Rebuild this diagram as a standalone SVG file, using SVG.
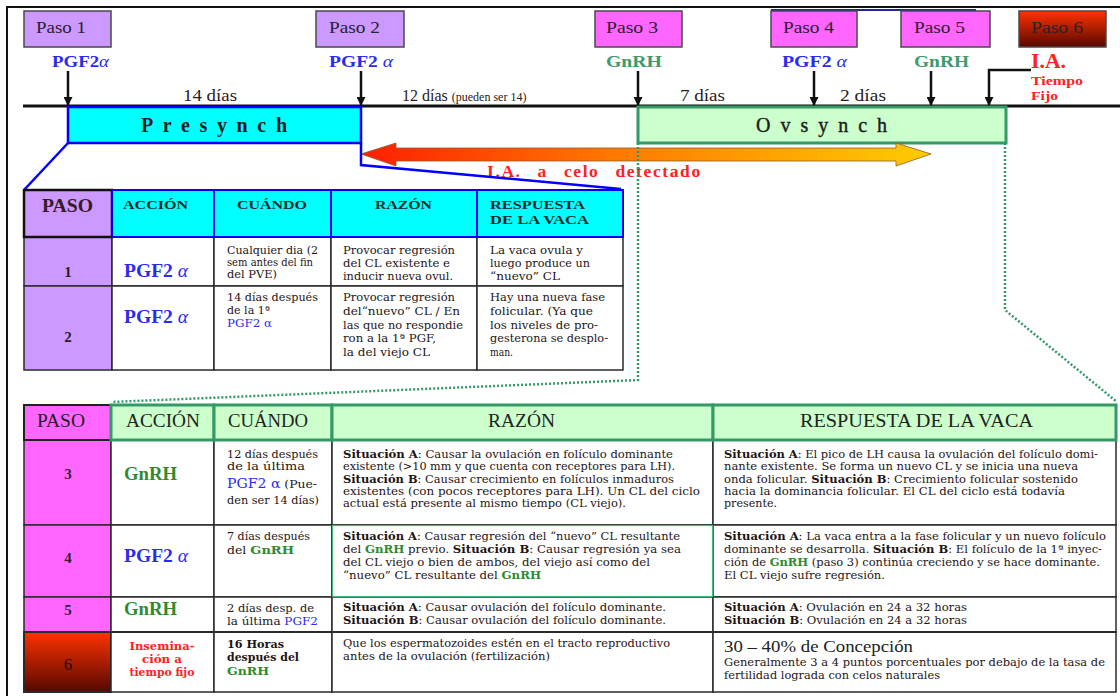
<svg xmlns="http://www.w3.org/2000/svg" width="1120" height="696" viewBox="0 0 1120 696">
<defs>
  <linearGradient id="g6" x1="0" y1="0" x2="0" y2="1">
    <stop offset="0" stop-color="#FF3300"/>
    <stop offset="1" stop-color="#560800"/>
  </linearGradient>
  <linearGradient id="gArrow" x1="0" y1="0" x2="1" y2="0">
    <stop offset="0" stop-color="#FF1E00"/>
    <stop offset="0.45" stop-color="#FF7A00"/>
    <stop offset="1" stop-color="#FFCC00"/>
  </linearGradient>
  <marker id="ah" markerWidth="9" markerHeight="9" refX="8" refY="4.5" orient="auto" markerUnits="userSpaceOnUse">
    <path d="M0,0 L9,4.5 L0,9 z" fill="#111"/>
  </marker>
</defs>
<style>
  .sf { font-family: "Liberation Serif", "DejaVu Serif", serif; }
  .t { font-family: "DejaVu Serif", "Liberation Serif", serif; font-size: 11px; fill: #1e1414; }
  .bd { font-weight: bold; }
  .blue { fill: #2B2BF0; }
  .grn { fill: #2E8B2E; }
  .teal { fill: #3E9A70; }
  .red { fill: #FF2020; }
  .pbox { stroke: #4a4a4a; stroke-width: 1.5; }
  .lav { fill: #CC99FF; }
  .mag { fill: #FF66FF; }
  .cyan { fill: #00FFFF; }
  .lg { fill: #CCFFCC; }
  .wh { fill: #FFFFFF; }
  .grid { stroke: #2a2a2a; stroke-width: 1.5; }
  .h1 { stroke: #0000FF; stroke-width: 2; }
  .h2 { stroke: #339966; stroke-width: 3; }
  .lblp { font-size: 17px; fill: #2a2030; }
  .hdr1 { font-size: 13px; font-weight: bold; fill: #1a2a2a; }
  .hdr2 { font-size: 19px; fill: #222; }
  .dots { fill: none; stroke: #339966; stroke-width: 2.5; stroke-dasharray: 2 2; }
</style>
<rect x="0" y="0" width="1120" height="696" fill="#FFFFFF"/>

<!-- outer frame -->
<path d="M7,696 V7 H1120" fill="none" stroke="#111" stroke-width="2"/>
<line x1="771" y1="10" x2="976" y2="10" stroke="#2222AA" stroke-width="2"/>

<!-- step boxes -->
<g id="paso1">
  <rect class="pbox lav" x="24" y="11" width="87" height="36"/>
  <text class="sf lblp" x="36" y="33" textLength="50" lengthAdjust="spacingAndGlyphs">Paso 1</text>
  <text class="sf bd blue" x="52" y="67" font-size="17" textLength="57" lengthAdjust="spacingAndGlyphs">PGF2<tspan font-style="italic" font-weight="normal">α</tspan></text>
</g>
<g id="paso2">
  <rect class="pbox lav" x="316" y="11" width="88" height="36"/>
  <text class="sf lblp" x="329" y="33" textLength="51" lengthAdjust="spacingAndGlyphs">Paso 2</text>
  <text class="sf bd blue" x="329" y="67" font-size="17" textLength="64" lengthAdjust="spacingAndGlyphs">PGF2 <tspan font-style="italic" font-weight="normal">α</tspan></text>
</g>
<g id="paso3">
  <rect class="pbox mag" x="595" y="11" width="87" height="36"/>
  <text class="sf lblp" x="606" y="33" textLength="52" lengthAdjust="spacingAndGlyphs">Paso 3</text>
  <text class="sf bd teal" x="606" y="67" font-size="17" textLength="56" lengthAdjust="spacingAndGlyphs">GnRH</text>
</g>
<g id="paso4">
  <rect class="pbox mag" x="771" y="11" width="86" height="36"/>
  <text class="sf lblp" x="783" y="33" textLength="51" lengthAdjust="spacingAndGlyphs">Paso 4</text>
  <text class="sf bd blue" x="782" y="67" font-size="17" textLength="65" lengthAdjust="spacingAndGlyphs">PGF2 <tspan font-style="italic" font-weight="normal">α</tspan></text>
</g>
<g id="paso5">
  <rect class="pbox mag" x="901" y="11" width="89" height="36"/>
  <text class="sf lblp" x="914" y="33" textLength="51" lengthAdjust="spacingAndGlyphs">Paso 5</text>
  <text class="sf bd teal" x="914" y="67" font-size="17" textLength="55" lengthAdjust="spacingAndGlyphs">GnRH</text>
</g>
<g id="paso6">
  <rect class="pbox" x="1019" y="11" width="87" height="36" fill="url(#g6)"/>
  <text class="sf lblp" x="1031" y="33" textLength="52" lengthAdjust="spacingAndGlyphs" fill="#1a0a0a">Paso 6</text>
  <text class="sf bd red" x="1031" y="68" font-size="20" textLength="35" lengthAdjust="spacingAndGlyphs">I.A.</text>
  <text class="sf bd red" x="1031" y="85" font-size="13" textLength="52" lengthAdjust="spacingAndGlyphs">Tiempo</text>
  <text class="sf bd red" x="1031" y="100" font-size="13" textLength="27" lengthAdjust="spacingAndGlyphs">Fijo</text>
</g>

<!-- timeline -->
<g id="timeline">
  <line x1="23" y1="106" x2="1120" y2="106" stroke="#111" stroke-width="3"/>
  <text class="sf" x="183" y="101" font-size="16" fill="#2a2020" textLength="54" lengthAdjust="spacingAndGlyphs">14 días</text>
  <text class="sf" x="402" y="101" font-size="16" fill="#2a2020">12 días <tspan font-size="12">(pueden ser 14)</tspan></text>
  <text class="sf" x="680" y="101" font-size="16" fill="#2a2020" textLength="45" lengthAdjust="spacingAndGlyphs">7 días</text>
  <text class="sf" x="840" y="101" font-size="16" fill="#2a2020" textLength="46" lengthAdjust="spacingAndGlyphs">2 días</text>
</g>

<g id="presynch">
  <rect x="68" y="107" width="293" height="36" class="cyan" stroke="#0000FF" stroke-width="2.5"/>
  <text class="sf bd" x="141" y="132" font-size="20" fill="#1a2020" textLength="146" lengthAdjust="spacing">Presynch</text>
</g>
<g id="ovsynch">
  <rect x="638" y="107" width="368" height="36" class="lg" stroke="#339966" stroke-width="3"/>
  <text class="sf" x="756" y="132" font-size="20" fill="#1a2020" stroke="#1a2020" stroke-width="0.4" textLength="131" lengthAdjust="spacing">Ovsynch</text>
</g>

<!-- detected heat arrow -->
<g id="ia-celo">
  <polygon points="361,154 396,143 396,148 896,148 896,143 931,154 896,166 896,161 396,161 396,166" fill="url(#gArrow)" stroke="#8a5a30" stroke-width="0.8"/>
  <text class="sf bd red" x="487" y="177" font-size="17.5" letter-spacing="1.6" word-spacing="10">I.A. a celo detectado</text>
</g>

<!-- connectors -->
<g id="connectors" fill="none">
  <line x1="68" y1="71" x2="68" y2="105" stroke="#111" stroke-width="2.5" marker-end="url(#ah)"/>
  <line x1="361" y1="71" x2="361" y2="105" stroke="#111" stroke-width="2.5" marker-end="url(#ah)"/>
  <line x1="638" y1="71" x2="638" y2="105" stroke="#111" stroke-width="2.5" marker-end="url(#ah)"/>
  <line x1="814" y1="71" x2="814" y2="105" stroke="#111" stroke-width="2.5" marker-end="url(#ah)"/>
  <line x1="931" y1="71" x2="931" y2="105" stroke="#111" stroke-width="2.5" marker-end="url(#ah)"/>
  <path d="M1031,70 H989 V105" stroke="#111" stroke-width="2.5" marker-end="url(#ah)"/>
  <path d="M68,143 L24,190" stroke="#0000FF" stroke-width="2.5"/>
  <path d="M361,143 V165 L621,189" stroke="#0000FF" stroke-width="2.5"/>
  <path class="dots" d="M638,143 V380 L112,402"/>
  <path class="dots" d="M1005,143 V310 L1117,402"/>
</g>

<!-- table 1 : Presynch -->
<g id="table1">
  <rect class="lav grid" x="24" y="237" width="88" height="49"/>
  <rect class="wh grid" x="112" y="237" width="102" height="49"/>
  <rect class="wh grid" x="214" y="237" width="117" height="49"/>
  <rect class="wh grid" x="331" y="237" width="146" height="49"/>
  <rect class="wh grid" x="477" y="237" width="146" height="49"/>
  <rect class="lav grid" x="24" y="286" width="88" height="84"/>
  <rect class="wh grid" x="112" y="286" width="102" height="84"/>
  <rect class="wh grid" x="214" y="286" width="117" height="84"/>
  <rect class="wh grid" x="331" y="286" width="146" height="84"/>
  <rect class="wh grid" x="477" y="286" width="146" height="84"/>
  <rect class="lav" x="24" y="190" width="88" height="47" stroke="#111" stroke-width="2.5"/>
  <rect class="cyan h1" x="112" y="190" width="102" height="47"/>
  <rect class="cyan h1" x="214" y="190" width="117" height="47"/>
  <rect class="cyan h1" x="331" y="190" width="146" height="47"/>
  <rect class="cyan h1" x="477" y="190" width="146" height="47"/>

  <text class="sf bd" x="42" y="212" font-size="18" fill="#3a1a2a" textLength="51" lengthAdjust="spacingAndGlyphs">PASO</text>
  <text class="sf hdr1" x="123" y="209" textLength="65" lengthAdjust="spacingAndGlyphs">ACCIÓN</text>
  <text class="sf hdr1" x="237" y="209" textLength="70" lengthAdjust="spacingAndGlyphs">CUÁNDO</text>
  <text class="sf hdr1" x="375" y="209" textLength="57" lengthAdjust="spacingAndGlyphs">RAZÓN</text>
  <text class="sf hdr1" x="490" y="209" textLength="95" lengthAdjust="spacingAndGlyphs">RESPUESTA</text>
  <text class="sf hdr1" x="490" y="224" textLength="99" lengthAdjust="spacingAndGlyphs">DE LA VACA</text>

  <text class="sf bd" x="68" y="277" font-size="15" fill="#2a1a2a" text-anchor="middle">1</text>
  <text class="sf bd blue" x="124" y="277" font-size="18" textLength="64" lengthAdjust="spacingAndGlyphs">PGF2 <tspan font-style="italic" font-weight="normal">α</tspan></text>
  <text class="t" x="227" y="254" textLength="91" lengthAdjust="spacingAndGlyphs">Cualquier dia (2</text>
  <text class="t" x="227" y="266" font-size="9" textLength="86" lengthAdjust="spacingAndGlyphs">sem antes del fin</text>
  <text class="t" x="227" y="278" font-size="9" textLength="50" lengthAdjust="spacingAndGlyphs">del  PVE)</text>
  <text class="t" x="343" y="254" textLength="112" lengthAdjust="spacingAndGlyphs">Provocar regresión</text>
  <text class="t" x="343" y="267" textLength="107" lengthAdjust="spacingAndGlyphs">del CL existente e</text>
  <text class="t" x="343" y="280" textLength="110" lengthAdjust="spacingAndGlyphs">inducir nueva ovul.</text>
  <text class="t" x="490" y="254" textLength="93" lengthAdjust="spacingAndGlyphs">La vaca ovula y</text>
  <text class="t" x="490" y="267" textLength="100" lengthAdjust="spacingAndGlyphs">luego produce un</text>
  <text class="t" x="490" y="280" textLength="70" lengthAdjust="spacingAndGlyphs">“nuevo” CL</text>

  <text class="sf bd" x="68" y="342" font-size="15" fill="#2a1a2a" text-anchor="middle">2</text>
  <text class="sf bd blue" x="124" y="323" font-size="18" textLength="64" lengthAdjust="spacingAndGlyphs">PGF2 <tspan font-style="italic" font-weight="normal">α</tspan></text>
  <text class="t" x="227" y="301" textLength="91" lengthAdjust="spacingAndGlyphs">14 días después</text>
  <text class="t" x="227" y="314" textLength="43" lengthAdjust="spacingAndGlyphs">de la 1ª</text>
  <text class="t blue" x="227" y="327" textLength="45" lengthAdjust="spacingAndGlyphs">PGF2 α</text>
  <text class="t" x="343" y="301" textLength="112" lengthAdjust="spacingAndGlyphs">Provocar regresión</text>
  <text class="t" x="343" y="315" textLength="117" lengthAdjust="spacingAndGlyphs">del“nuevo” CL / En</text>
  <text class="t" x="343" y="329" textLength="120" lengthAdjust="spacingAndGlyphs">las que no respondie</text>
  <text class="t" x="343" y="342" textLength="93" lengthAdjust="spacingAndGlyphs">ron a la 1ª PGF,</text>
  <text class="t" x="343" y="356" textLength="87" lengthAdjust="spacingAndGlyphs">la del viejo CL</text>
  <text class="t" x="490" y="301" textLength="115" lengthAdjust="spacingAndGlyphs">Hay una nueva fase</text>
  <text class="t" x="490" y="315" textLength="103" lengthAdjust="spacingAndGlyphs">folicular. (Ya que</text>
  <text class="t" x="490" y="329" textLength="108" lengthAdjust="spacingAndGlyphs">los niveles de pro-</text>
  <text class="t" x="490" y="342" textLength="118" lengthAdjust="spacingAndGlyphs">gesterona se desplo-</text>
  <text class="t" x="490" y="356" textLength="23" lengthAdjust="spacingAndGlyphs">man.</text>
</g>

<!-- table 2 : Ovsynch -->
<g id="table2">
  <rect class="mag grid" x="24" y="440" width="87" height="85"/>
  <rect class="wh grid" x="111" y="440" width="103" height="85"/>
  <rect class="wh grid" x="214" y="440" width="118" height="85"/>
  <rect class="wh grid" x="332" y="440" width="381" height="85"/>
  <rect class="wh grid" x="713" y="440" width="403" height="85"/>
  <rect class="mag grid" x="24" y="525" width="87" height="72"/>
  <rect class="wh grid" x="111" y="525" width="103" height="72"/>
  <rect class="wh grid" x="214" y="525" width="118" height="72"/>
  <rect class="wh grid" x="332" y="525" width="381" height="72"/>
  <rect class="wh grid" x="713" y="525" width="403" height="72"/>
  <rect class="mag grid" x="24" y="597" width="87" height="35"/>
  <rect class="wh grid" x="111" y="597" width="103" height="35"/>
  <rect class="wh grid" x="214" y="597" width="118" height="35"/>
  <rect class="wh grid" x="332" y="597" width="381" height="35"/>
  <rect class="wh grid" x="713" y="597" width="403" height="35"/>
  <rect x="24" y="632" width="87" height="60" fill="url(#g6)" stroke="#2a2a2a" stroke-width="2"/>
  <rect class="wh grid" x="111" y="632" width="103" height="60"/>
  <rect class="wh grid" x="214" y="632" width="118" height="60"/>
  <rect class="wh grid" x="332" y="632" width="381" height="60"/>
  <rect class="wh grid" x="713" y="632" width="403" height="60"/>
  <rect x="332.5" y="525.5" width="380" height="71" fill="none" stroke="#44BB77" stroke-width="1.2"/>
  <line x1="24" y1="632" x2="1116" y2="632" stroke="#2a2a2a" stroke-width="2"/>
  <rect class="mag" x="24" y="405" width="87" height="35" stroke="#222" stroke-width="2"/>
  <rect class="lg h2" x="111" y="405" width="103" height="35"/>
  <rect class="lg h2" x="214" y="405" width="118" height="35"/>
  <rect class="lg h2" x="332" y="405" width="381" height="35"/>
  <rect class="lg h2" x="713" y="405" width="403" height="35"/>

  <text class="sf hdr2" x="37" y="427" textLength="48" lengthAdjust="spacingAndGlyphs" fill="#2a1a3a">PASO</text>
  <text class="sf hdr2" x="126" y="427" textLength="74" lengthAdjust="spacingAndGlyphs">ACCIÓN</text>
  <text class="sf hdr2" x="228" y="427" textLength="80" lengthAdjust="spacingAndGlyphs">CUÁNDO</text>
  <text class="sf hdr2" x="488" y="427" textLength="67" lengthAdjust="spacingAndGlyphs">RAZÓN</text>
  <text class="sf hdr2" x="800" y="427" textLength="233" lengthAdjust="spacingAndGlyphs">RESPUESTA DE  LA VACA</text>

  <!-- row 3 -->
  <text class="sf bd" x="68" y="479" font-size="15" fill="#3a1a3a" text-anchor="middle">3</text>
  <text class="sf bd grn" x="124" y="480" font-size="18" textLength="53" lengthAdjust="spacingAndGlyphs">GnRH</text>
  <text class="t" x="227" y="458" textLength="91" lengthAdjust="spacingAndGlyphs">12 días después</text>
  <text class="t" x="227" y="470" textLength="78" lengthAdjust="spacingAndGlyphs">de la última</text>
  <text class="t" x="227" y="488" textLength="90" lengthAdjust="spacingAndGlyphs"><tspan class="blue" font-size="12.5">PGF2 α</tspan> (Pue-</text>
  <text class="t" x="227" y="504" textLength="92" lengthAdjust="spacingAndGlyphs">den ser 14 días)</text>
  <text class="t" x="343" y="458" textLength="330" lengthAdjust="spacingAndGlyphs"><tspan class="bd">Situación A</tspan>: Causar la ovulación en folículo dominante</text>
  <text class="t" x="343" y="470" textLength="332" lengthAdjust="spacingAndGlyphs">existente (&gt;10 mm y que cuenta con receptores para LH).</text>
  <text class="t" x="343" y="483" textLength="331" lengthAdjust="spacingAndGlyphs"><tspan class="bd">Situación B</tspan>: Causar crecimiento en folículos inmaduros</text>
  <text class="t" x="343" y="495" textLength="357" lengthAdjust="spacingAndGlyphs">existentes (con pocos receptores para LH). Un CL del ciclo</text>
  <text class="t" x="343" y="507" textLength="283" lengthAdjust="spacingAndGlyphs">actual está presente al mismo tiempo (CL viejo).</text>
  <text class="t" x="724" y="458" textLength="374" lengthAdjust="spacingAndGlyphs"><tspan class="bd">Situación A</tspan>: El pico de LH causa la ovulación del folículo domi-</text>
  <text class="t" x="724" y="470" textLength="354" lengthAdjust="spacingAndGlyphs">nante existente. Se forma un nuevo CL y se inicia una nueva</text>
  <text class="t" x="724" y="483" textLength="354" lengthAdjust="spacingAndGlyphs">onda folicular. <tspan class="bd">Situación B</tspan>: Crecimiento folicular sostenido</text>
  <text class="t" x="724" y="495" textLength="341" lengthAdjust="spacingAndGlyphs">hacia la dominancia folicular. El CL del ciclo está todavía</text>
  <text class="t" x="724" y="507" textLength="53" lengthAdjust="spacingAndGlyphs">presente.</text>

  <!-- row 4 -->
  <text class="sf bd" x="68" y="563" font-size="15" fill="#3a1a3a" text-anchor="middle">4</text>
  <text class="sf bd blue" x="124" y="562" font-size="18" textLength="64" lengthAdjust="spacingAndGlyphs">PGF2 <tspan font-style="italic" font-weight="normal">α</tspan></text>
  <text class="t" x="227" y="540" textLength="83" lengthAdjust="spacingAndGlyphs">7 días después</text>
  <text class="t" x="227" y="554" textLength="67" lengthAdjust="spacingAndGlyphs">del  <tspan class="bd grn" font-size="11.5">GnRH</tspan></text>
  <text class="t" x="343" y="540" textLength="337" lengthAdjust="spacingAndGlyphs"><tspan class="bd">Situación A</tspan>: Causar regresión del “nuevo” CL resultante</text>
  <text class="t" x="343" y="553" textLength="338" lengthAdjust="spacingAndGlyphs">del  <tspan class="bd grn">GnRH</tspan> previo.  <tspan class="bd">Situación B</tspan>: Causar regresión ya sea</text>
  <text class="t" x="343" y="566" textLength="307" lengthAdjust="spacingAndGlyphs">del CL viejo o bien de ambos, del viejo así como del</text>
  <text class="t" x="343" y="579" textLength="198" lengthAdjust="spacingAndGlyphs">“nuevo” CL resultante del <tspan class="bd grn">GnRH</tspan></text>
  <text class="t" x="724" y="540" textLength="382" lengthAdjust="spacingAndGlyphs"><tspan class="bd">Situación A</tspan>: La vaca entra a la fase folicular y un nuevo folículo</text>
  <text class="t" x="724" y="553" textLength="378" lengthAdjust="spacingAndGlyphs">dominante se desarrolla. <tspan class="bd">Situación B</tspan>: El folículo de la 1ª inyec-</text>
  <text class="t" x="724" y="566" textLength="376" lengthAdjust="spacingAndGlyphs">ción de <tspan class="bd grn">GnRH</tspan> (paso 3) continúa creciendo y se hace dominante.</text>
  <text class="t" x="724" y="579" textLength="161" lengthAdjust="spacingAndGlyphs">El CL viejo sufre regresión.</text>

  <!-- row 5 -->
  <text class="sf bd" x="68" y="615" font-size="15" fill="#3a1a3a" text-anchor="middle">5</text>
  <text class="sf bd grn" x="124" y="615" font-size="18" textLength="53" lengthAdjust="spacingAndGlyphs">GnRH</text>
  <text class="t" x="227" y="612" textLength="87" lengthAdjust="spacingAndGlyphs">2 días desp. de</text>
  <text class="t" x="227" y="625" textLength="91" lengthAdjust="spacingAndGlyphs">la última <tspan class="blue">PGF2</tspan></text>
  <text class="t" x="343" y="611" textLength="323" lengthAdjust="spacingAndGlyphs"><tspan class="bd">Situación A</tspan>: Causar ovulación del folículo dominante.</text>
  <text class="t" x="343" y="624" textLength="323" lengthAdjust="spacingAndGlyphs"><tspan class="bd">Situación B</tspan>: Causar ovulación del folículo dominante.</text>
  <text class="t" x="724" y="611" textLength="243" lengthAdjust="spacingAndGlyphs"><tspan class="bd">Situación A</tspan>: Ovulación en 24 a 32 horas</text>
  <text class="t" x="724" y="624" textLength="243" lengthAdjust="spacingAndGlyphs"><tspan class="bd">Situación B</tspan>: Ovulación en 24 a 32 horas</text>

  <!-- row 6 -->
  <text class="sf" x="68" y="670" font-size="17" fill="#1a0a0a" text-anchor="middle">6</text>
  <text class="t bd red" x="162" y="650" font-size="11" text-anchor="middle" textLength="65" lengthAdjust="spacingAndGlyphs">Insemina-</text>
  <text class="t bd red" x="162" y="663" font-size="11" text-anchor="middle" textLength="40" lengthAdjust="spacingAndGlyphs">ción a</text>
  <text class="t bd red" x="162" y="676" font-size="11" text-anchor="middle" textLength="65" lengthAdjust="spacingAndGlyphs">tiempo fijo</text>
  <text class="t bd" x="227" y="648" font-size="11.5" textLength="57" lengthAdjust="spacingAndGlyphs">16 Horas</text>
  <text class="t bd" x="227" y="661" font-size="11.5" textLength="72" lengthAdjust="spacingAndGlyphs">después del</text>
  <text class="t bd grn" x="227" y="675" font-size="11.5" textLength="42" lengthAdjust="spacingAndGlyphs">GnRH</text>
  <text class="t" x="343" y="647" textLength="327" lengthAdjust="spacingAndGlyphs">Que los espermatozoides estén en el tracto reproductivo</text>
  <text class="t" x="343" y="660" textLength="207" lengthAdjust="spacingAndGlyphs">antes de la ovulación (fertilización)</text>
  <text class="sf" x="724" y="652" font-size="17" fill="#222" textLength="189" lengthAdjust="spacingAndGlyphs">30 – 40% de Concepción</text>
  <text class="t" x="724" y="666" textLength="381" lengthAdjust="spacingAndGlyphs">Generalmente 3 a 4 puntos porcentuales por debajo de la tasa de</text>
  <text class="t" x="724" y="679" textLength="216" lengthAdjust="spacingAndGlyphs">fertilidad lograda con celos naturales</text>
</g>
</svg>
